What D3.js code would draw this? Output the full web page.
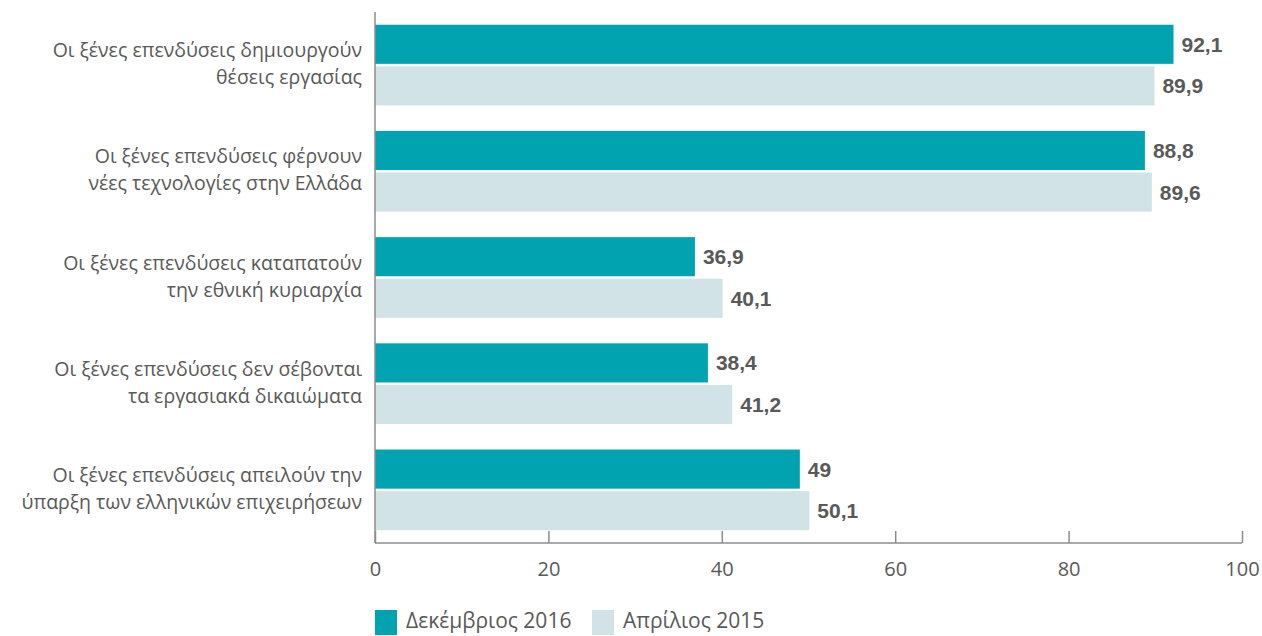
<!DOCTYPE html>
<html>
<head>
<meta charset="utf-8">
<script src="https://cdn.jsdelivr.net/npm/d3@7"></script>
<style>
  html, body { margin: 0; padding: 0; background: #fff; }
  svg { display: block; }
</style>
</head>
<body>
<svg id="chart"></svg>
<script>
/* Horizontal grouped bar chart, two survey waves */

const categories = [
  ['Οι ξένες επενδύσεις δημιουργούν', 'θέσεις εργασίας'],
  ['Οι ξένες επενδύσεις φέρνουν', 'νέες τεχνολογίες στην Ελλάδα'],
  ['Οι ξένες επενδύσεις καταπατούν', 'την εθνική κυριαρχία'],
  ['Οι ξένες επενδύσεις δεν σέβονται', 'τα εργασιακά δικαιώματα'],
  ['Οι ξένες επενδύσεις απειλούν την', 'ύπαρξη των ελληνικών επιχειρήσεων']
];
const seriesNames = ['Δεκέμβριος 2016', 'Απρίλιος 2015'];
const dec2016 = [92.1, 88.8, 36.9, 38.4, 49];
const apr2015 = [89.9, 89.6, 40.1, 41.2, 50.1];
const xTicks = [0, 20, 40, 60, 80, 100];

const COLORS = ['#00A3AF', '#D1E3E7'];
const TEXT = '#595959';
const FONT = '"Open Sans", "Noto Sans", sans-serif';
const W = 1262, H = 636;

const svg = d3.select('#chart').attr('width', W).attr('height', H);

const x = d3.scaleLinear().domain([0, 100]).range([375, 1242]);
const y = d3.scaleBand()
  .domain(d3.range(categories.length))
  .range([12, 543])
  .paddingInner(0.24)
  .paddingOuter(0.12);
const ySub = d3.scaleBand()
  .domain([0, 1])
  .range([0, y.bandwidth()])
  .paddingInner(0.06);

const series = [dec2016, apr2015];

/* ── Bars ── */
series.forEach((vals, s) => {
  svg.append('g')
    .selectAll('rect')
    .data(vals)
    .join('rect')
    .attr('x', x(0))
    .attr('y', (d, i) => y(i) + ySub(s))
    .attr('width', d => x(d) - x(0))
    .attr('height', ySub.bandwidth())
    .attr('fill', COLORS[s]);

  svg.append('g')
    .selectAll('text')
    .data(vals)
    .join('text')
    .attr('x', d => x(d) + 8)
    .attr('y', (d, i) => y(i) + ySub(s) + ySub.bandwidth() / 2)
    .attr('dominant-baseline', 'central')
    .attr('fill', TEXT)
    .attr('font-size', 21)
    .attr('font-weight', 700)
    .attr('font-family', '"Liberation Sans", Arial, sans-serif')
    .text(d => String(d).replace('.', ','));
});

/* ── X axis ── */
const axis = svg.append('g')
  .attr('transform', `translate(0,543)`)
  .call(d3.axisBottom(x).tickValues(xTicks).tickSize(-12));
axis.select('.domain').attr('stroke', '#8c8c8c').attr('stroke-width', 1.5).attr('d', `M${x(0)},0H${x(100)}`);
axis.selectAll('.tick line').attr('stroke', '#8c8c8c').attr('stroke-width', 1.5);
axis.selectAll('.tick text')
  .attr('y', 25)
  .attr('dy', null)
  .attr('dominant-baseline', 'central')
  .attr('fill', TEXT)
  .attr('font-size', 20)
  .attr('font-family', FONT);

/* ── Y axis line ── */
svg.append('line')
  .attr('x1', x(0)).attr('x2', x(0))
  .attr('y1', 12).attr('y2', 543)
  .attr('stroke', '#8c8c8c')
  .attr('stroke-width', 1.5);

/* ── Category labels ── */
const lab = svg.append('g')
  .selectAll('text')
  .data(categories)
  .join('text')
  .attr('text-anchor', 'end')
  .attr('fill', TEXT)
  .attr('font-size', 19.5)
  .attr('font-family', FONT);
lab.each(function (lines, i) {
  const cy = y(i) + y.bandwidth() / 2;
  d3.select(this).selectAll('tspan')
    .data(lines)
    .join('tspan')
    .attr('x', 362)
    .attr('y', (d, j) => cy + (j - 0.5) * 27 - 2)
    .attr('dominant-baseline', 'central')
    .text(d => d);
});

/* ── Legend ── */
const legX = [375, 592];
const leg = svg.append('g')
  .selectAll('g')
  .data(seriesNames)
  .join('g')
  .attr('transform', (d, i) => `translate(${legX[i]},610)`);
leg.append('rect')
  .attr('width', 22).attr('height', 25)
  .attr('fill', (d, i) => COLORS[i]);
leg.append('text')
  .attr('x', 31).attr('y', 10)
  .attr('dominant-baseline', 'central')
  .attr('fill', TEXT)
  .attr('font-size', 21)
  .attr('font-family', FONT)
  .text(d => d);
</script>
</body>
</html>
